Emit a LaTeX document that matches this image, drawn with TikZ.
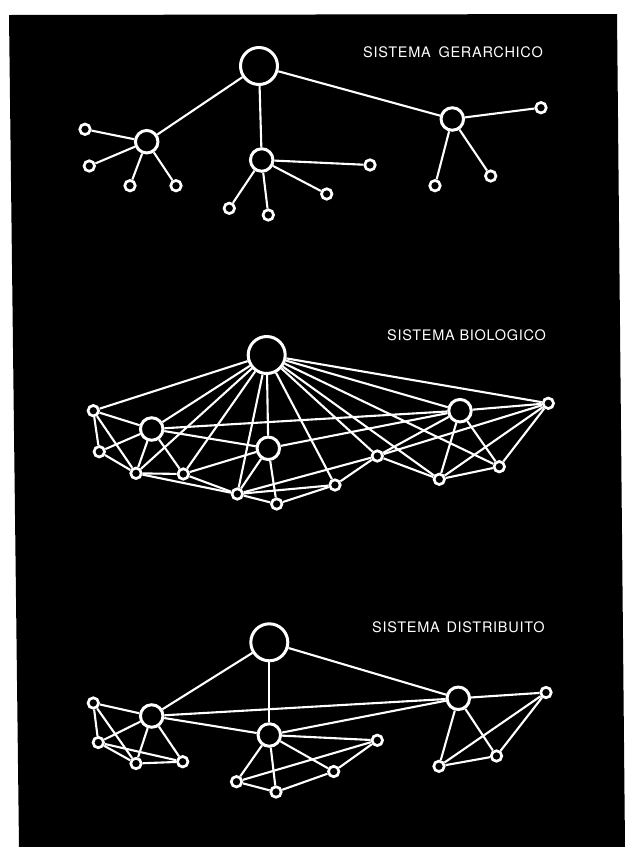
\documentclass[tikz,border=0pt]{standalone}
\usepackage{fontspec}
\newfontfamily\lblfont{TeX Gyre Heros}[LetterSpace=5]
\pgfdeclarelayer{back}
\pgfdeclarelayer{edges}
\pgfsetlayers{back,edges,main}
\begin{document}
\begin{tikzpicture}[x=1pt,y=-1pt,
  big/.style={circle,draw=white,fill=black,line width=3pt,minimum size=37pt,inner sep=0pt},
  hub/.style={circle,draw=white,fill=black,line width=3pt,minimum size=22.5pt,inner sep=0pt},
  leaf/.style={circle,draw=white,fill=black,line width=2.7pt,minimum size=10.5pt,inner sep=0pt},
  link/.style={draw=white,line width=2.1pt},
  title/.style={anchor=base west,text=white,inner sep=0pt,font=\lblfont\fontsize{14.5}{14.5}\selectfont}]
\useasboundingbox (0,0) rectangle (625,847);
\begin{pgfonlayer}{back}
  \fill[white] (0,0) rectangle (625,847);
  \fill[black] (9,15) -- (617,14) -- (625,847) -- (19,847) -- cycle;
\end{pgfonlayer}

% ---------- SISTEMA GERARCHICO ----------
\node[title] (tH) at (363,57) {SISTEMA\hspace{3pt} GERARCHICO};
\node[big] (H0) at (259,66) {};
\node[hub] (HL) at (146.7,141.7) {};
\node[hub] (HM) at (261.7,160) {};
\node[hub] (HR) at (452.3,119) {};
\node[leaf] (HL1) at (85,129.3) {};
\node[leaf] (HL2) at (89.3,166) {};
\node[leaf] (HL3) at (130,185.7) {};
\node[leaf] (HL4) at (176,185.7) {};
\node[leaf] (HM1) at (370,165) {};
\node[leaf] (HM2) at (326.7,194) {};
\node[leaf] (HM3) at (229.3,208.3) {};
\node[leaf] (HM4) at (268.3,215) {};
\node[leaf] (HR1) at (541,107.7) {};
\node[leaf] (HR2) at (435,185.7) {};
\node[leaf] (HR3) at (490.7,176) {};

% ---------- SISTEMA BIOLOGICO ----------
\node[title] (tB) at (387,340) {SISTEMA BIOLOGICO};
\node[big] (B0) at (266.7,355) {};
\node[hub] (BL) at (151.7,429) {};
\node[hub] (BM) at (268.3,448.3) {};
\node[hub] (BR) at (460,410.7) {};
\node[leaf] (Ba1) at (93.3,410.7) {};
\node[leaf] (Ba2) at (99.3,451.7) {};
\node[leaf] (Ba3) at (136,473.3) {};
\node[leaf] (Ba4) at (183.3,474) {};
\node[leaf] (Ba5) at (237.3,494) {};
\node[leaf] (Ba6) at (276.7,504) {};
\node[leaf] (Ba7) at (335,485) {};
\node[leaf] (Ba8) at (377.3,456) {};
\node[leaf] (Ba9) at (439.3,479.3) {};
\node[leaf] (Ba10) at (499.3,466.7) {};
\node[leaf] (Ba11) at (548.3,403.3) {};

% ---------- SISTEMA DISTRIBUITO ----------
\node[title] (tD) at (372,632) {SISTEMA\hspace{2pt} DISTRIBUITO};
\node[big] (D0) at (269.3,642.3) {};
\node[hub] (DL) at (151.7,716) {};
\node[hub] (DM) at (269.3,735) {};
\node[hub] (DR) at (458.3,698.3) {};
\node[leaf] (Db1) at (93.3,703) {};
\node[leaf] (Db2) at (98.3,742.5) {};
\node[leaf] (Db3) at (136,763.5) {};
\node[leaf] (Db4) at (182.7,761.7) {};
\node[leaf] (Db5) at (236.5,781.7) {};
\node[leaf] (Db6) at (276,792) {};
\node[leaf] (Db7) at (333.7,771.5) {};
\node[leaf] (Db8) at (377.3,740.3) {};
\node[leaf] (Db9) at (439,766.3) {};
\node[leaf] (Db10) at (496.5,756) {};
\node[leaf] (Db11) at (546,692.5) {};

\begin{pgfonlayer}{edges}
  % hierarchical
  \foreach \a/\b in {H0/HL,H0/HM,H0/HR,
    HL/HL1,HL/HL2,HL/HL3,HL/HL4,
    HM/HM1,HM/HM2,HM/HM3,HM/HM4,
    HR/HR1,HR/HR2,HR/HR3}
    \draw[link] (\a) -- (\b);
  % biological
  \foreach \a/\b in {B0/Ba1,B0/BL,B0/Ba3,B0/Ba4,B0/Ba5,B0/BM,B0/Ba7,B0/Ba8,B0/Ba9,B0/Ba10,B0/BR,B0/Ba11,
    Ba1/BL,Ba1/Ba2,Ba1/Ba3,
    BL/Ba2,BL/Ba3,BL/Ba4,BL/BM,BL/BR,
    Ba2/Ba3,Ba3/Ba4,Ba3/Ba5,Ba4/Ba5,Ba4/BM,
    BM/Ba5,BM/Ba6,BM/BR,
    Ba5/Ba6,Ba5/Ba7,Ba5/Ba8,Ba6/Ba7,
    Ba7/Ba8,Ba8/BR,Ba8/Ba9,Ba8/Ba11,
    BR/Ba9,BR/Ba10,BR/Ba11,Ba9/Ba10,Ba9/Ba11,Ba10/Ba11}
    \draw[link] (\a) -- (\b);
  % distributed
  \foreach \a/\b in {D0/DL,D0/DM,D0/DR,DL/DR,DL/DM,DM/DR,
    Db1/DL,Db1/Db2,Db1/Db3,Db2/DL,Db2/Db3,Db2/Db4,Db3/DL,Db3/Db4,Db4/DL,
    DM/Db5,DM/Db6,DM/Db7,DM/Db8,Db5/Db6,Db5/Db8,Db6/Db7,Db7/Db8,
    DR/Db11,DR/Db9,DR/Db10,Db9/Db10,Db9/Db11,Db10/Db11}
    \draw[link] (\a) -- (\b);
\end{pgfonlayer}
\end{tikzpicture}
\end{document}
